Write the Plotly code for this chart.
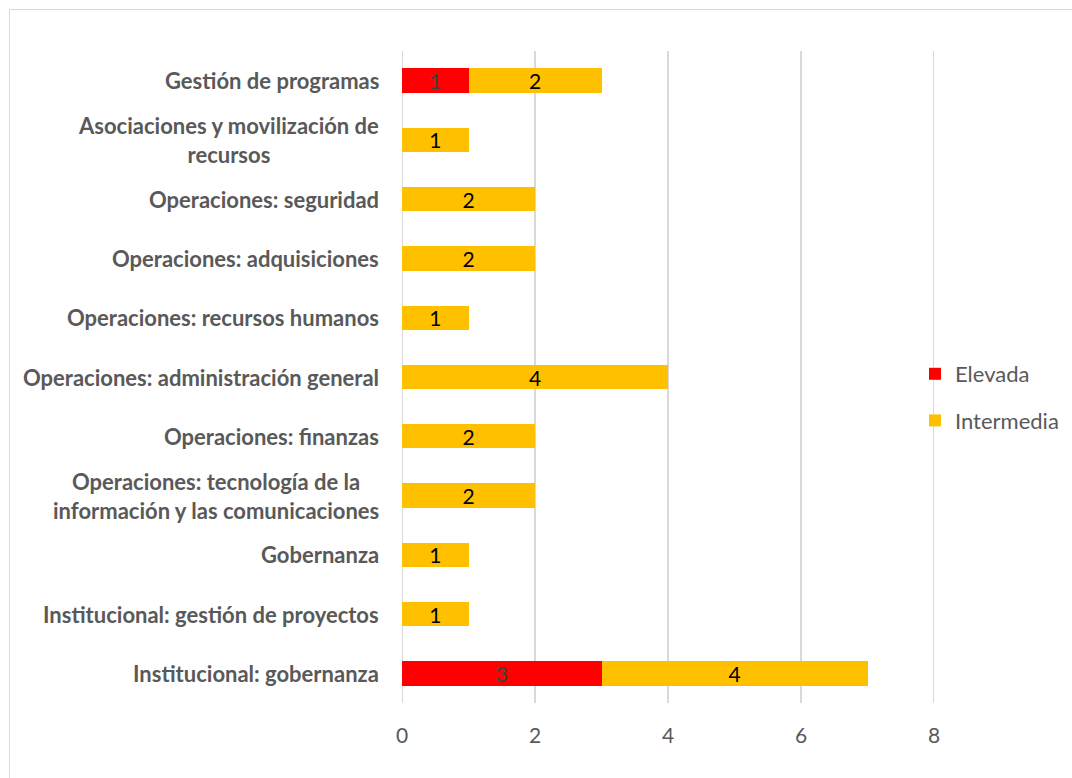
import plotly.graph_objects as go

categories = [
    "Gestión de programas",
    "Asociaciones y movilización de<br>recursos",
    "Operaciones: seguridad",
    "Operaciones: adquisiciones",
    "Operaciones: recursos humanos",
    "Operaciones: administración general",
    "Operaciones: finanzas",
    "Operaciones: tecnología de la<br>información y las comunicaciones",
    "Gobernanza",
    "Institucional: gestión de proyectos",
    "Institucional: gobernanza",
]
elevada = [1, 0, 0, 0, 0, 0, 0, 0, 0, 0, 3]
intermedia = [2, 1, 2, 2, 1, 4, 2, 2, 1, 1, 4]
x_ticks = [0, 2, 4, 6, 8]

FONT = "Lato"
GRAY = "#595959"
GRID = "#D9D9D9"

def labels(vals):
    return [str(v) if v else "" for v in vals]

fig = go.Figure()
fig.add_trace(go.Bar(
    y=categories, x=elevada, name="Elevada", orientation="h",
    marker=dict(color="#FF0000", line=dict(width=0)),
    text=labels(elevada), textposition="inside", insidetextanchor="middle",
    textangle=0,
    textfont=dict(color="#404040", size=21, family=FONT),
    constraintext="none", legendgroup="a",
))
fig.add_trace(go.Bar(
    y=categories, x=intermedia, name="Intermedia", orientation="h",
    marker=dict(color="#FFC000", line=dict(width=0)),
    text=labels(intermedia), textposition="inside", insidetextanchor="middle",
    textangle=0,
    textfont=dict(color="#000000", size=21, family=FONT),
    constraintext="none", legendgroup="b",
))

for c in categories:
    fig.add_annotation(
        x=-0.04, xref="paper", y=c, yref="y", text="<b>" + c + "</b>",
        showarrow=False, xanchor="right", yanchor="middle", align="center",
        font=dict(family=FONT, size=22, color=GRAY),
    )

# gridlines at the range ends (plotly omits them at the plot edges)
for v in (x_ticks[0], x_ticks[-1]):
    fig.add_shape(
        type="line", xref="x", yref="paper", x0=v, x1=v, y0=0, y1=1,
        line=dict(color=GRID, width=2), layer="below",
    )

L, R, T, B = 402, 1072 - 934, 51, 778 - 703
W, H = 1072, 778
pw, ph = W - L - R, H - T - B
fig.add_shape(
    type="rect", xref="paper", yref="paper", layer="below",
    x0=(9.5 - L) / pw, x1=(1090 - L) / pw,
    y0=(H - B - 790) / ph, y1=(H - B - 9.5) / ph,
    line=dict(color=GRID, width=1), fillcolor="rgba(0,0,0,0)",
)

fig.update_layout(
    barmode="stack", bargap=0.59,
    width=W, height=H,
    margin=dict(l=L, r=R, t=T, b=B, pad=0, autoexpand=False),
    paper_bgcolor="white", plot_bgcolor="white",
    font=dict(family=FONT, color=GRAY, size=18),
    showlegend=True,
    legend=dict(
        x=(915 - L) / pw, xanchor="left", y=(H - B - 397.5) / ph, yanchor="middle",
        traceorder="grouped", tracegroupgap=15,
        font=dict(family=FONT, size=22, color=GRAY),
        bgcolor="rgba(0,0,0,0)", itemwidth=30,
    ),
    xaxis=dict(
        range=[x_ticks[0], x_ticks[-1]], tickvals=x_ticks, showgrid=True, gridcolor=GRID,
        gridwidth=2, zeroline=False, showline=False,
        tickfont=dict(family=FONT, size=21, color=GRAY), ticks="",
        ticklabelstandoff=18,
    ),
    yaxis=dict(
        autorange="reversed", showticklabels=False, showgrid=False,
        zeroline=False, showline=False, ticks="",
    ),
)

fig.write_html("out.html")
